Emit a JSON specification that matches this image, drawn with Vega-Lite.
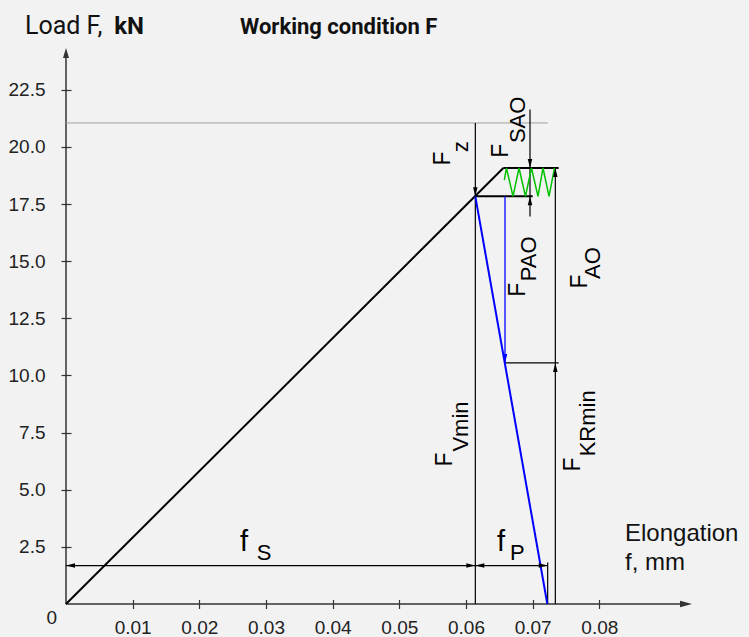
{
  "$schema": "https://vega.github.io/schema/vega-lite/v6.json",
  "width": 626,
  "height": 556,
  "autosize": {"type": "none"},
  "padding": {"left": 66, "right": 57, "top": 48, "bottom": 33},
  "background": "#f2f2f2",
  "config": {"view": {"stroke": null}},
  "datasets": {
    "axes": [
      {"x": 0, "y": 0, "x2": 0.0925, "y2": 0},
      {"x": 0, "y": 0, "x2": 0, "y2": 24.0}
    ],
    "thick": [
      {"x": 0, "y": 0, "x2": 0.0656, "y2": 19.08},
      {"x": 0.0614, "y": 17.84, "x2": 0.0700, "y2": 17.84},
      {"x": 0.0656, "y": 19.08, "x2": 0.0739, "y2": 19.08}
    ],
    "thin": [
      {"x": 0.0614, "y": 0, "x2": 0.0614, "y2": 21.05},
      {"x": 0.0696, "y": 16.96, "x2": 0.0696, "y2": 21.64},
      {"x": 0.0734, "y": 0, "x2": 0.0734, "y2": 19.08},
      {"x": 0.06585, "y": 10.55, "x2": 0.0739, "y2": 10.55},
      {"x": 0, "y": 1.68, "x2": 0.07225, "y2": 1.68},
      {"x": 0.07225, "y": 0, "x2": 0.07225, "y2": 1.82}
    ],
    "gray": [
      {"x": 0, "y": 21.05, "x2": 0.07225, "y2": 21.05}
    ],
    "blueThick": [
      {"x": 0.0614, "y": 17.84, "x2": 0.0722, "y2": 0}
    ],
    "blueThin": [
      {"x": 0.06585, "y": 17.84, "x2": 0.06585, "y2": 10.55}
    ],
    "zigzag": [
      {"i": 0, "x": 0.06575, "y": 18.55},
      {"i": 1, "x": 0.06607, "y": 19.08},
      {"i": 2, "x": 0.06705, "y": 17.84},
      {"i": 3, "x": 0.06795, "y": 19.08},
      {"i": 4, "x": 0.06892, "y": 17.84},
      {"i": 5, "x": 0.06982, "y": 19.08},
      {"i": 6, "x": 0.0708, "y": 17.84},
      {"i": 7, "x": 0.07155, "y": 19.08},
      {"i": 8, "x": 0.07245, "y": 17.84},
      {"i": 9, "x": 0.07328, "y": 19.08}
    ],
    "axisArrows": [
      {"x": 0.0939, "y": 0, "dir": "right"},
      {"x": 0, "y": 24.33, "dir": "up"}
    ],
    "arrows": [
      {"x": 0.0614, "y": 17.84, "dir": "down"},
      {"x": 0.0696, "y": 19.08, "dir": "down"},
      {"x": 0.0696, "y": 17.84, "dir": "up"},
      {"x": 0.0734, "y": 19.08, "dir": "up"},
      {"x": 0.0734, "y": 10.55, "dir": "up"},
      {"x": 0, "y": 1.68, "dir": "left"},
      {"x": 0.0614, "y": 1.68, "dir": "right"},
      {"x": 0.0614, "y": 1.68, "dir": "left"},
      {"x": 0.07225, "y": 1.68, "dir": "right"}
    ],
    "blueArrows": [
      {"x": 0.06585, "y": 10.55, "dir": "down"}
    ],
    "fMain": [
      {"x": 0.0576, "y": 19.19, "t": "F"},
      {"x": 0.06634, "y": 19.53, "t": "F"},
      {"x": 0.06885, "y": 13.45, "t": "F"},
      {"x": 0.0781, "y": 13.81, "t": "F"},
      {"x": 0.05786, "y": 6.02, "t": "F"},
      {"x": 0.0771, "y": 5.80, "t": "F"}
    ],
    "fSub": [
      {"x": 0.0603, "y": 19.77, "t": "z"},
      {"x": 0.06885, "y": 20.17, "t": "SAO"},
      {"x": 0.0705, "y": 14.12, "t": "PAO"},
      {"x": 0.0801, "y": 14.22, "t": "AO"},
      {"x": 0.06035, "y": 6.67, "t": "Vmin"},
      {"x": 0.07935, "y": 6.46, "t": "KRmin"}
    ],
    "lowF": [
      {"x": 0.02611, "y": 2.30, "t": "f"},
      {"x": 0.06465, "y": 2.30, "t": "f"}
    ],
    "lowSub": [
      {"x": 0.02861, "y": 1.94, "t": "S"},
      {"x": 0.0666, "y": 1.94, "t": "P"}
    ],
    "xTitle": [
      {"x": 0.08385, "y": 2.74, "t": "Elongation"},
      {"x": 0.08385, "y": 1.50, "t": "f, mm"}
    ],
    "zero": [
      {"x": -0.00215, "y": -0.6, "t": "0"}
    ],
    "yTitle": [
      {"x": -0.00615, "y": 24.95, "t": "Load F,"}
    ],
    "yTitleBold": [
      {"x": 0.00724, "y": 24.95, "t": "kN"}
    ],
    "title": [
      {"x": 0.0261, "y": 24.95, "t": "Working condition F"}
    ]
  },
  "layer": [
    {
      "data": {"name": "axes"},
      "mark": {"type": "rule", "color": "#333333", "strokeWidth": 1.5},
      "encoding": {
        "x": {"field": "x", "type": "quantitative", "scale": {"domain": [0, 0.0939], "nice": false, "zero": false},
          "axis": {"values": [0.01, 0.02, 0.03, 0.04, 0.05, 0.06, 0.07, 0.08], "format": ".2f", "domain": false, "grid": false, "title": null,
            "tickSize": 9, "offset": -4.5, "tickColor": "#333333", "tickWidth": 1.2, "labelPadding": 10, "labelFontSize": 19,
            "labelFont": "Liberation Sans", "labelColor": "#222222", "labelFlush": false, "labelOverlap": false}},
        "y": {"field": "y", "type": "quantitative", "scale": {"domain": [0, 24.33], "nice": false, "zero": false},
          "axis": {"values": [2.5, 5, 7.5, 10, 12.5, 15, 17.5, 20, 22.5], "format": ".1f", "domain": false, "grid": false, "title": null,
            "tickSize": 10, "offset": -5, "tickColor": "#333333", "tickWidth": 1.2, "labelPadding": 16, "labelFontSize": 19,
            "labelFont": "Liberation Sans", "labelColor": "#222222", "labelFlush": false, "labelOverlap": false}},
        "x2": {"field": "x2"},
        "y2": {"field": "y2"}
      }
    },
    {
      "data": {"name": "gray"},
      "mark": {"type": "rule", "color": "#a0a0a0", "strokeWidth": 1},
      "encoding": {
        "x": {"field": "x", "type": "quantitative", "scale": {"domain": [0, 0.0939], "nice": false, "zero": false}},
        "y": {"field": "y", "type": "quantitative", "scale": {"domain": [0, 24.33], "nice": false, "zero": false}},
        "x2": {"field": "x2"},
        "y2": {"field": "y2"}
      }
    },
    {
      "data": {"name": "thin"},
      "mark": {"type": "rule", "color": "#000000", "strokeWidth": 1.2},
      "encoding": {
        "x": {"field": "x", "type": "quantitative", "scale": {"domain": [0, 0.0939], "nice": false, "zero": false}},
        "y": {"field": "y", "type": "quantitative", "scale": {"domain": [0, 24.33], "nice": false, "zero": false}},
        "x2": {"field": "x2"},
        "y2": {"field": "y2"}
      }
    },
    {
      "data": {"name": "thick"},
      "mark": {"type": "rule", "color": "#000000", "strokeWidth": 2},
      "encoding": {
        "x": {"field": "x", "type": "quantitative", "scale": {"domain": [0, 0.0939], "nice": false, "zero": false}},
        "y": {"field": "y", "type": "quantitative", "scale": {"domain": [0, 24.33], "nice": false, "zero": false}},
        "x2": {"field": "x2"},
        "y2": {"field": "y2"}
      }
    },
    {
      "data": {"name": "blueThin"},
      "mark": {"type": "rule", "color": "#0000ff", "strokeWidth": 1.3},
      "encoding": {
        "x": {"field": "x", "type": "quantitative", "scale": {"domain": [0, 0.0939], "nice": false, "zero": false}},
        "y": {"field": "y", "type": "quantitative", "scale": {"domain": [0, 24.33], "nice": false, "zero": false}},
        "x2": {"field": "x2"},
        "y2": {"field": "y2"}
      }
    },
    {
      "data": {"name": "blueThick"},
      "mark": {"type": "rule", "color": "#0000ff", "strokeWidth": 2},
      "encoding": {
        "x": {"field": "x", "type": "quantitative", "scale": {"domain": [0, 0.0939], "nice": false, "zero": false}},
        "y": {"field": "y", "type": "quantitative", "scale": {"domain": [0, 24.33], "nice": false, "zero": false}},
        "x2": {"field": "x2"},
        "y2": {"field": "y2"}
      }
    },
    {
      "data": {"name": "zigzag"},
      "mark": {"type": "line", "color": "#00c000", "strokeWidth": 1.5},
      "encoding": {
        "x": {"field": "x", "type": "quantitative", "scale": {"domain": [0, 0.0939], "nice": false, "zero": false}},
        "y": {"field": "y", "type": "quantitative", "scale": {"domain": [0, 24.33], "nice": false, "zero": false}},
        "order": {"field": "i", "type": "quantitative"}
      }
    },
    {
      "data": {"name": "axisArrows"},
      "transform": [{"filter": "datum.dir == 'right'"}],
      "mark": {"type": "point", "shape": "M0,0L-1,-0.28L-1,0.28Z", "filled": true, "size": 576, "color": "#333333", "strokeWidth": 0, "opacity": 1, "angle": 0},
      "encoding": {
        "x": {"field": "x", "type": "quantitative", "scale": {"domain": [0, 0.0939], "nice": false, "zero": false}},
        "y": {"field": "y", "type": "quantitative", "scale": {"domain": [0, 24.33], "nice": false, "zero": false}}
      }
    },
    {
      "data": {"name": "axisArrows"},
      "transform": [{"filter": "datum.dir == 'up'"}],
      "mark": {"type": "point", "shape": "M0,0L-1,-0.3L-1,0.3Z", "filled": true, "size": 400, "color": "#333333", "strokeWidth": 0, "opacity": 1, "angle": 270},
      "encoding": {
        "x": {"field": "x", "type": "quantitative", "scale": {"domain": [0, 0.0939], "nice": false, "zero": false}},
        "y": {"field": "y", "type": "quantitative", "scale": {"domain": [0, 24.33], "nice": false, "zero": false}}
      }
    },
    {
      "data": {"name": "arrows"},
      "transform": [{"filter": "datum.dir == 'right'"}],
      "mark": {"type": "point", "shape": "M0,0L-1,-0.25L-1,0.25Z", "filled": true, "size": 324, "color": "#000000", "strokeWidth": 0, "opacity": 1, "angle": 0},
      "encoding": {
        "x": {"field": "x", "type": "quantitative", "scale": {"domain": [0, 0.0939], "nice": false, "zero": false}},
        "y": {"field": "y", "type": "quantitative", "scale": {"domain": [0, 24.33], "nice": false, "zero": false}}
      }
    },
    {
      "data": {"name": "arrows"},
      "transform": [{"filter": "datum.dir == 'left'"}],
      "mark": {"type": "point", "shape": "M0,0L-1,-0.25L-1,0.25Z", "filled": true, "size": 324, "color": "#000000", "strokeWidth": 0, "opacity": 1, "angle": 180},
      "encoding": {
        "x": {"field": "x", "type": "quantitative", "scale": {"domain": [0, 0.0939], "nice": false, "zero": false}},
        "y": {"field": "y", "type": "quantitative", "scale": {"domain": [0, 24.33], "nice": false, "zero": false}}
      }
    },
    {
      "data": {"name": "arrows"},
      "transform": [{"filter": "datum.dir == 'up'"}],
      "mark": {"type": "point", "shape": "M0,0L-1,-0.25L-1,0.25Z", "filled": true, "size": 324, "color": "#000000", "strokeWidth": 0, "opacity": 1, "angle": 270},
      "encoding": {
        "x": {"field": "x", "type": "quantitative", "scale": {"domain": [0, 0.0939], "nice": false, "zero": false}},
        "y": {"field": "y", "type": "quantitative", "scale": {"domain": [0, 24.33], "nice": false, "zero": false}}
      }
    },
    {
      "data": {"name": "arrows"},
      "transform": [{"filter": "datum.dir == 'down'"}],
      "mark": {"type": "point", "shape": "M0,0L-1,-0.25L-1,0.25Z", "filled": true, "size": 324, "color": "#000000", "strokeWidth": 0, "opacity": 1, "angle": 90},
      "encoding": {
        "x": {"field": "x", "type": "quantitative", "scale": {"domain": [0, 0.0939], "nice": false, "zero": false}},
        "y": {"field": "y", "type": "quantitative", "scale": {"domain": [0, 24.33], "nice": false, "zero": false}}
      }
    },
    {
      "data": {"name": "blueArrows"},
      "mark": {"type": "point", "shape": "M0,0L-1,-0.25L-1,0.25Z", "filled": true, "size": 324, "color": "#0000ff", "strokeWidth": 0, "opacity": 1, "angle": 90},
      "encoding": {
        "x": {"field": "x", "type": "quantitative", "scale": {"domain": [0, 0.0939], "nice": false, "zero": false}},
        "y": {"field": "y", "type": "quantitative", "scale": {"domain": [0, 24.33], "nice": false, "zero": false}}
      }
    },
    {
      "data": {"name": "fMain"},
      "mark": {"type": "text", "angle": 270, "align": "left", "baseline": "alphabetic", "font": "Liberation Sans", "fontSize": 23, "color": "#000000"},
      "encoding": {
        "x": {"field": "x", "type": "quantitative", "scale": {"domain": [0, 0.0939], "nice": false, "zero": false}},
        "y": {"field": "y", "type": "quantitative", "scale": {"domain": [0, 24.33], "nice": false, "zero": false}},
        "text": {"field": "t"}
      }
    },
    {
      "data": {"name": "fSub"},
      "mark": {"type": "text", "angle": 270, "align": "left", "baseline": "alphabetic", "font": "Liberation Sans", "fontSize": 22, "color": "#000000"},
      "encoding": {
        "x": {"field": "x", "type": "quantitative", "scale": {"domain": [0, 0.0939], "nice": false, "zero": false}},
        "y": {"field": "y", "type": "quantitative", "scale": {"domain": [0, 24.33], "nice": false, "zero": false}},
        "text": {"field": "t"}
      }
    },
    {
      "data": {"name": "lowF"},
      "mark": {"type": "text", "align": "left", "baseline": "alphabetic", "font": "Liberation Sans", "fontSize": 29, "color": "#000000"},
      "encoding": {
        "x": {"field": "x", "type": "quantitative", "scale": {"domain": [0, 0.0939], "nice": false, "zero": false}},
        "y": {"field": "y", "type": "quantitative", "scale": {"domain": [0, 24.33], "nice": false, "zero": false}},
        "text": {"field": "t"}
      }
    },
    {
      "data": {"name": "lowSub"},
      "mark": {"type": "text", "align": "left", "baseline": "alphabetic", "font": "Liberation Sans", "fontSize": 22, "color": "#000000"},
      "encoding": {
        "x": {"field": "x", "type": "quantitative", "scale": {"domain": [0, 0.0939], "nice": false, "zero": false}},
        "y": {"field": "y", "type": "quantitative", "scale": {"domain": [0, 24.33], "nice": false, "zero": false}},
        "text": {"field": "t"}
      }
    },
    {
      "data": {"name": "xTitle"},
      "mark": {"type": "text", "align": "left", "baseline": "alphabetic", "font": "Liberation Sans", "fontSize": 24, "color": "#111111"},
      "encoding": {
        "x": {"field": "x", "type": "quantitative", "scale": {"domain": [0, 0.0939], "nice": false, "zero": false}},
        "y": {"field": "y", "type": "quantitative", "scale": {"domain": [0, 24.33], "nice": false, "zero": false}},
        "text": {"field": "t"}
      }
    },
    {
      "data": {"name": "zero"},
      "mark": {"type": "text", "align": "center", "baseline": "middle", "font": "Liberation Sans", "fontSize": 19, "color": "#222222"},
      "encoding": {
        "x": {"field": "x", "type": "quantitative", "scale": {"domain": [0, 0.0939], "nice": false, "zero": false}},
        "y": {"field": "y", "type": "quantitative", "scale": {"domain": [0, 24.33], "nice": false, "zero": false}},
        "text": {"field": "t"}
      }
    },
    {
      "data": {"name": "yTitle"},
      "mark": {"type": "text", "align": "left", "baseline": "alphabetic", "font": "Roboto", "fontSize": 25, "color": "#111111"},
      "encoding": {
        "x": {"field": "x", "type": "quantitative", "scale": {"domain": [0, 0.0939], "nice": false, "zero": false}},
        "y": {"field": "y", "type": "quantitative", "scale": {"domain": [0, 24.33], "nice": false, "zero": false}},
        "text": {"field": "t"}
      }
    },
    {
      "data": {"name": "yTitleBold"},
      "mark": {"type": "text", "align": "left", "baseline": "alphabetic", "font": "Roboto", "fontSize": 24, "fontWeight": "bold", "color": "#111111"},
      "encoding": {
        "x": {"field": "x", "type": "quantitative", "scale": {"domain": [0, 0.0939], "nice": false, "zero": false}},
        "y": {"field": "y", "type": "quantitative", "scale": {"domain": [0, 24.33], "nice": false, "zero": false}},
        "text": {"field": "t"}
      }
    },
    {
      "data": {"name": "title"},
      "mark": {"type": "text", "align": "left", "baseline": "alphabetic", "font": "Roboto", "fontSize": 22, "fontWeight": "bold", "color": "#111111"},
      "encoding": {
        "x": {"field": "x", "type": "quantitative", "scale": {"domain": [0, 0.0939], "nice": false, "zero": false}},
        "y": {"field": "y", "type": "quantitative", "scale": {"domain": [0, 24.33], "nice": false, "zero": false}},
        "text": {"field": "t"}
      }
    }
  ]
}
